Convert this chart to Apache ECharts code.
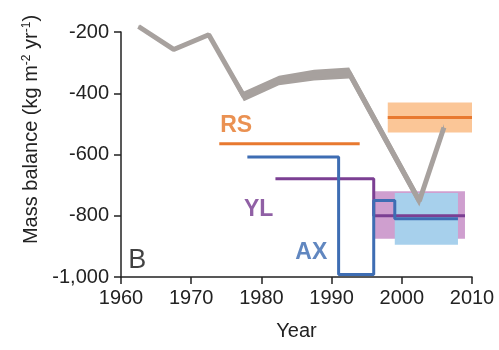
<!DOCTYPE html>
<html>
<head>
<meta charset="utf-8">
<script src="https://cdn.jsdelivr.net/npm/echarts@6/dist/echarts.min.js"></script>
<style>
html,body{margin:0;padding:0;background:#fff;}
#chart{width:499px;height:350px;}
</style>
</head>
<body>
<div id="chart"></div>
<script>
// ---- data ----
const xTicks = [1960, 1970, 1980, 1990, 2000, 2010];
const yTicks = [-1000, -800, -600, -400, -200];

const grayYears = [1962.5, 1967.5, 1972.5, 1977.5, 1982.5, 1987.5, 1992.5, 2002.5, 2006];
const grayMid   = [-182, -257, -209, -410, -358, -340, -334, -752, -512];
const grayUpper = [-178, -251, -203, -394, -343, -323, -316, -735, -500];
const grayLower = [-186, -263, -215, -426, -374, -358, -352, -770, -524];

const rsOldYears = [1974, 1994];
const rsOldValues = [-565, -565];
const rsNewYears = [1998, 2010];
const rsNewValues = [-479, -479];
const rsBox = [1998, 2010, -430, -528];

const axYears  = [1978, 1991, 1991, 1996, 1996, 1999, 1999, 2008];
const axValues = [-608, -608, -992, -992, -750, -750, -810, -810];
const axBox = [1999, 2008, -726, -895];

const ylYears  = [1982, 1996, 1996, 2009];
const ylValues = [-679, -679, -800, -800];
const ylBox = [1996, 2009, -720, -875];

const labelNames  = ['RS', 'YL', 'AX', 'B'];
const labelYears  = [1976.4, 1979.6, 1987.1, 1962.3];
const labelValues = [-506, -780, -921, -947];

// ---- styles ----
const C = {
  gray: '#a7a19e', orange: '#e8792f', orangeBox: '#fbc697',
  blue: '#3e6db3', blueBox: '#a7d0ec', purple: '#7b3f93', purpleBox: '#cf9fcf'
};
const labelStyles = {
  RS: {color: '#e57527', fontSize: 23, fontWeight: 'bold'},
  YL: {color: '#74388f', fontSize: 23, fontWeight: 'bold'},
  AX: {color: '#3a69b0', fontSize: 23, fontWeight: 'bold'},
  B:  {color: '#111', fontSize: 27, fontWeight: 'normal'}
};
const FONT = '"Liberation Sans", Arial, Helvetica, sans-serif';

const zip = (xs, ys) => xs.map((x, i) => [x, ys[i]]);

function boxSeries(box, color) {
  return {
    type: 'custom', clip: false, silent: true,
    data: [box],
    renderItem: function (params, api) {
      const p0 = api.coord([api.value(0), api.value(2)]);
      const p1 = api.coord([api.value(1), api.value(3)]);
      return {
        type: 'rect',
        shape: {
          x: Math.min(p0[0], p1[0]), y: Math.min(p0[1], p1[1]),
          width: Math.abs(p1[0] - p0[0]), height: Math.abs(p1[1] - p0[1])
        },
        style: {fill: color}
      };
    }
  };
}

function lineSeries(xs, ys, color, width) {
  return {
    type: 'line', data: zip(xs, ys), symbol: 'none', clip: false, silent: true,
    lineStyle: {color: color, width: width}, z: 3
  };
}

const bandSeries = {
  type: 'custom', clip: false, silent: true,
  data: [[0]],
  renderItem: function (params, api) {
    const pts = [];
    grayYears.forEach((x, i) => pts.push(api.coord([x, grayUpper[i]])));
    for (let i = grayYears.length - 1; i >= 0; i--) pts.push(api.coord([grayYears[i], grayLower[i]]));
    return {type: 'polygon', shape: {points: pts}, style: {fill: C.gray}};
  }
};

const chart = echarts.init(document.getElementById('chart'), null, {renderer: 'canvas'});
chart.setOption({
  backgroundColor: '#ffffff',
  animation: false,
  textStyle: {fontFamily: FONT},
  grid: {left: 121, right: 27, top: 32, bottom: 73, containLabel: false},
  xAxis: {
    type: 'value', min: xTicks[0], max: xTicks[xTicks.length - 1], interval: 10,
    name: 'Year', nameLocation: 'middle', nameGap: 44,
    nameTextStyle: {fontSize: 20, color: '#222', fontFamily: FONT},
    axisLine: {show: true, lineStyle: {color: '#222', width: 1.5}},
    axisTick: {show: true, length: 7, lineStyle: {color: '#222', width: 1.5}},
    axisLabel: {fontSize: 20, color: '#222', margin: 11, fontFamily: FONT, formatter: v => String(v)},
    splitLine: {show: false}
  },
  yAxis: {
    type: 'value', min: yTicks[0], max: yTicks[yTicks.length - 1], interval: 200,
    name: 'Mass balance (kg m{sup|-2} yr{sup|-1})',
    nameLocation: 'middle', nameGap: 80,
    nameTextStyle: {
      fontSize: 20, color: '#222', fontFamily: FONT, padding: [0, 0, 0, 50],
      rich: {sup: {fontSize: 12, color: '#222', fontFamily: FONT, verticalAlign: 'top', padding: [0, 0, 8, 0]}}
    },
    axisLine: {show: true, lineStyle: {color: '#222', width: 1.5}},
    axisTick: {show: true, length: 7, lineStyle: {color: '#222', width: 1.5}},
    axisLabel: {
      fontSize: 20, color: '#222', margin: 12, fontFamily: FONT,
      formatter: v => v.toLocaleString('en-US')
    },
    splitLine: {show: false}
  },
  series: [
    boxSeries(rsBox, C.orangeBox),
    boxSeries(ylBox, C.purpleBox),
    boxSeries(axBox, C.blueBox),
    bandSeries,
    Object.assign(lineSeries(grayYears, grayMid, C.gray, 5), {z: 2}),
    lineSeries(rsOldYears, rsOldValues, C.orange, 3),
    lineSeries(rsNewYears, rsNewValues, C.orange, 3),
    lineSeries(ylYears, ylValues, C.purple, 3),
    lineSeries(axYears, axValues, C.blue, 3),
    {
      type: 'scatter', symbolSize: 0, clip: false, silent: true, z: 5,
      data: labelNames.map((n, i) => ({
        value: [labelYears[i], labelValues[i]],
        label: Object.assign({show: true, position: 'inside', formatter: n, fontFamily: FONT}, labelStyles[n])
      }))
    }
  ]
});
</script>
</body>
</html>
